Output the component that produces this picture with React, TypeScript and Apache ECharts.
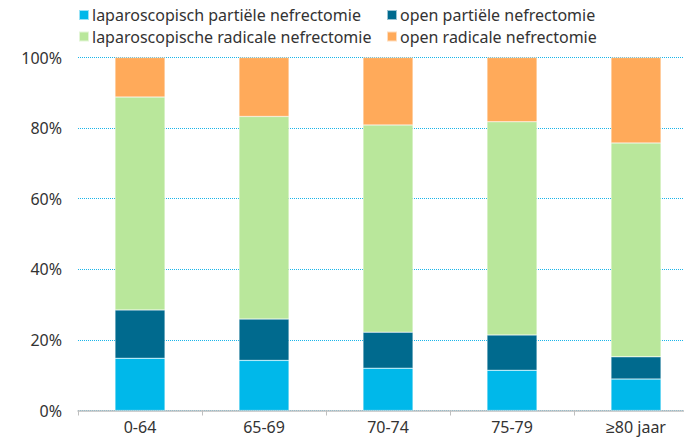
import React, { useEffect, useRef } from "react";
import * as echarts from "echarts";

const categories = ["0-64", "65-69", "70-74", "75-79", "≥80 jaar"];
const seriesNames = [
  "laparoscopisch partiële nefrectomie",
  "open partiële nefrectomie",
  "laparoscopische radicale nefrectomie",
  "open radicale nefrectomie",
];
const lapPartial = [14.8, 14.2, 12.0, 11.4, 8.9];
const openPartial = [13.7, 11.7, 10.2, 10.0, 6.3];
const lapRadical = [60.3, 57.4, 58.7, 60.4, 60.6];
const openRadical = [11.2, 16.7, 19.1, 18.2, 24.2];
const colors = ["#00b8ea", "#006a8e", "#b9e79b", "#ffaa5a"];

export default function App() {
  const ref = useRef<HTMLDivElement>(null);
  useEffect(() => {
    if (!ref.current) return;
    const chart = echarts.init(ref.current, null, { renderer: "svg" });
    const font = "'Noto Sans', sans-serif";
    const data = [lapPartial, openPartial, lapRadical, openRadical];
    const legendCommon = {
      orient: "vertical" as const,
      top: 7,
      itemWidth: 10,
      itemHeight: 10,
      itemGap: 5.5,
      icon: "rect",
      textStyle: { fontFamily: font, fontSize: 16, color: "#333", padding: [0, 0, 0, -2] },
      padding: 0,
    };
    chart.setOption({
      animation: false,
      color: colors,
      legend: [
        { ...legendCommon, left: 78, data: [seriesNames[0], seriesNames[2]] },
        { ...legendCommon, left: 386, data: [seriesNames[1], seriesNames[3]] },
      ],
      grid: {
        left: 78,
        width: 620,
        top: 57.5,
        bottom: 33.5,
        containLabel: false,
        outerBoundsMode: "none",
      },
      xAxis: {
        type: "category",
        data: categories,
        axisLine: { lineStyle: { color: "#bfbfbf", width: 1.5 } },
        axisTick: { show: true, length: 5, lineStyle: { color: "#bfbfbf" } },
        axisLabel: { fontFamily: font, fontSize: 16, color: "#333", margin: 8 },
      },
      yAxis: {
        type: "value",
        min: 0,
        max: 100,
        interval: 20,
        axisLine: { show: false },
        axisTick: { show: false },
        axisLabel: {
          formatter: "{value}%",
          fontFamily: font,
          fontSize: 16,
          color: "#333",
          margin: 16,
        },
        splitLine: { lineStyle: { color: "#1ab5ea", type: [1, 1], width: 1 } },
      },
      series: data.map((d, i) => ({
        name: seriesNames[i],
        type: "bar",
        stack: "total",
        barWidth: 50,
        data: d,
        itemStyle: { color: colors[i], borderColor: "rgba(255,255,255,0.6)", borderWidth: 0.5 },
      })),
    });
    return () => chart.dispose();
  }, []);
  return <div ref={ref} style={{ width: 684, height: 444, position: "absolute", left: 0, top: 0 }} />;
}
